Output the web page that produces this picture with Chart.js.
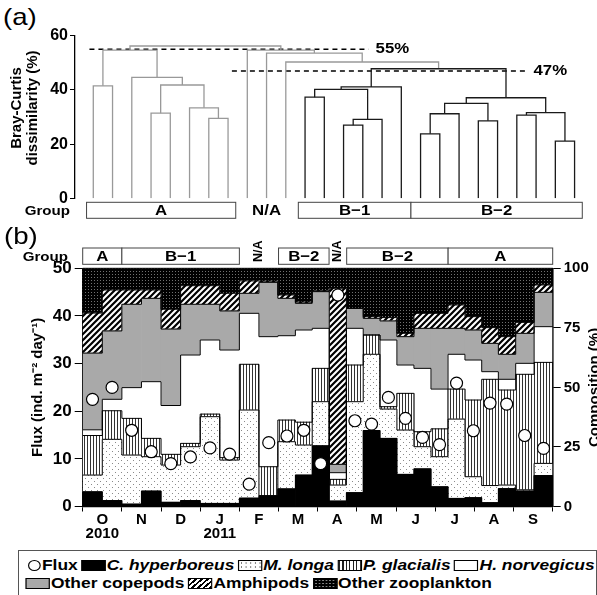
<!DOCTYPE html>
<html>
<head>
<meta charset="utf-8">
<script src="https://cdn.jsdelivr.net/npm/chart.js@4.4.1/dist/chart.umd.min.js"></script>
<style>
  body { margin: 0; background: #fff; }
  #page { position: relative; width: 597px; height: 595px; overflow: hidden; background: #fff;
          font-family: "Liberation Sans", Arial, sans-serif; color: #000; }
  canvas { position: absolute; left: 0; }
  .plab { position: absolute; font-size: 24px; line-height: 1; transform: scaleX(1.15); transform-origin: left top; }
  #legend { position: absolute; left: 18px; top: 550px; width: 579px; height: 60px; border: 1px solid #555;
            box-sizing: border-box; font-weight: bold; font-size: 15px; }
  .lrow { position: absolute; display: flex; align-items: center; white-space: nowrap; line-height: 18px;
          transform: scaleX(1.16); transform-origin: left center; }
  .sw { display: inline-block; width: 21px; height: 11px; border: 1px solid #000; box-sizing: border-box; margin: 0 1px 0 3px; }
  .fc { display: inline-block; width: 9px; height: 9px; border: 1.3px solid #000; border-radius: 50%; margin-right: 1px; }
  .ch { background: #000; }
  .ml { background: #fff radial-gradient(#777 0.7px, transparent 0.9px) 0 0 / 4px 4px; }
  .pg { background: repeating-linear-gradient(90deg, #222 0 1px, #fff 1px 3px); }
  .hn { background: #fff; }
  .oc { background: #a9a9a9; }
  .am { background: repeating-linear-gradient(135deg, #000 0 1.6px, #fff 1.6px 3.6px); }
  .oz { background: #000 radial-gradient(#888 0.6px, transparent 0.9px) 0 0 / 3px 3px; }
</style>
</head>
<body>
<div id="page">
  <div class="plab" style="left:3px;top:5px">(a)</div>
  <canvas id="dendro" width="597" height="225" style="top:0"></canvas>
  <canvas id="flux" width="597" height="320" style="top:225px"></canvas>
  <div class="plab" style="left:4px;top:224px">(b)</div>
  <div id="legend">
    <div class="lrow" style="left:9px;top:5px">
      <span class="fc"></span><span>Flux</span>
      <span class="sw ch"></span><i>C. hyperboreus</i>
      <span class="sw ml"></span><i>M. longa</i>
      <span class="sw pg"></span><i>P. glacialis</i>
      <span class="sw hn"></span><i>H. norvegicus</i>
    </div>
    <div class="lrow" style="left:3px;top:23px">
      <span class="sw oc"></span><span>Other copepods</span>
      <span class="sw am"></span><span>Amphipods</span>
      <span class="sw oz"></span><span>Other zooplankton</span>
    </div>
  </div>
</div>
<script>
// ---------- panel (a): Bray-Curtis cluster ----------
var leafGroup = ['A','A','A','A','A','A','A','A',
                 'N/A','N/A','N/A',
                 'B−1','B−1','B−1','B−1','B−1','B−1',
                 'B−2','B−2','B−2','B−2','B−2','B−2','B−2','B−2','B−2'];

// linkage: [left node, right node, dissimilarity %]; nodes 0-25 are samples, 26+ are merges
var merges = [
  [0, 1, 41.5], [3, 4, 31.4], [6, 7, 29.5], [5, 28, 33.4], [27, 29, 41.8], [2, 30, 44.6], [26, 31, 54.7],
  [11, 12, 37.3], [13, 14, 27.0], [34, 15, 29.1], [33, 35, 40.2], [36, 16, 41.1],
  [17, 18, 23.8], [38, 19, 31.2], [20, 21, 28.6], [39, 40, 35.0], [22, 23, 30.7], [24, 25, 21.1],
  [42, 43, 31.6], [41, 44, 37.1], [37, 45, 47.8],
  [10, 46, 50.3], [9, 47, 53.6], [8, 48, 54.7], [32, 49, 56.2]
];

var cutLevels = [55, 47];
var cutFrom = [-0.2, 7.2];
var cutTo = [14.3, 22.5];

// ---------- panel (b): trap samples ----------
var monthLabels = [['O', '2010'], 'N', 'D', ['J', '2011'], 'F', 'M', 'A', 'M', 'J', 'J', 'A', 'S'];
// sampling interval edges, months after 1 Oct 2010
var sampleEdges = [0, 0.5, 1, 1.5, 2, 2.5, 3, 3.5, 4, 4.5, 5, 5.43, 5.86, 6.29, 6.74, 7.16, 7.59,
                   8.02, 8.46, 8.89, 9.33, 9.76, 10.19, 10.61, 11.04, 11.53, 12];
var sampleGroup = ['A','A','B−1','B−1','B−1','B−1','B−1','B−1','N/A','N/A','B−2','B−2','B−2','N/A',
                   'B−2','B−2','B−2','B−2','B−2','B−2','A','A','A','A','A','A'];

var cHyperboreus =    [6.2, 2.5, 1.0, 6.5, 1.8, 2.5, 1.3, 1.3, 3.5, 4.5, 7.4, 13.2, 25.5, 2.3, 5.8, 31.9, 28.6, 13.5, 15.8, 8.3, 3.4, 3.7, 1.6, 7.5, 6.5, 13.0];
var mLonga =          [7.0, 25.7, 20.6, 14.4, 15.6, 22.6, 36.4, 18.2, 37.0, 0.0, 19.8, 12.6, 18.5, 6.7, 38.2, 32.0, 12.3, 18.6, 9.3, 12.6, 33.3, 8.8, 7.2, 1.5, 0.5, 5.1];
var pGlacialis =      [16.6, 12.0, 15.4, 7.7, 4.5, 1.4, 1.1, 1.0, 19.2, 12.2, 9.1, 9.6, 14.0, 2.4, 15.4, 8.1, 1.0, 15.4, 6.3, 11.7, 12.6, 32.2, 44.6, 39.9, 48.5, 42.4];
var hNorvegicus =     [2.4, 4.8, 12.9, 23.8, 20.5, 37.1, 31.1, 45.2, 21.4, 54.6, 35.4, 38.7, 16.8, 2.8, 15.4, 0.0, 28.0, 11.9, 26.6, 16.7, 14.6, 16.8, 3.2, 4.5, 4.6, 15.0];
var otherCopepods =   [32.2, 28.7, 35.0, 35.0, 32.1, 21.3, 15.0, 16.4, 8.4, 22.8, 15.7, 11.2, 15.4, 3.5, 8.4, 7.0, 8.0, 11.9, 16.8, 25.5, 10.9, 12.6, 11.9, 10.5, 12.6, 14.4];
var amphipods =       [16.8, 17.2, 6.0, 3.5, 8.3, 7.8, 7.8, 7.4, 5.2, 0.5, 1.4, 0.5, 0.3, 73.9, 0.0, 0.7, 1.4, 1.4, 6.3, 6.3, 9.8, 5.6, 6.6, 7.4, 4.6, 3.1];
var otherZooplankton = [18.8, 9.1, 9.1, 9.1, 17.2, 7.3, 7.3, 10.5, 5.3, 5.4, 11.2, 14.2, 9.5, 8.4, 16.8, 20.3, 20.7, 27.3, 18.9, 18.9, 15.4, 20.3, 24.9, 28.7, 22.7, 7.0];
var flux = [22.5, 25.0, 16.0, 11.5, 9.0, 10.4, 12.3, 11.0, 4.7, 13.4, 14.8, 16.0, 9.0, 44.4, 18.0, 17.3, 22.9, 18.5, 14.5, 13.0, 25.9, 15.9, 21.7, 21.5, 14.9, 12.2];

var FONT = "'Liberation Sans', Arial, sans-serif";
Chart.defaults.font.family = FONT;
Chart.defaults.color = '#000';

function groupRuns(groups) {
  var out = [];
  groups.forEach(function (g, i) {
    var last = out[out.length - 1];
    if (last && last.name === g) last.last = i; else out.push({ name: g, first: i, last: i });
  });
  return out;
}

function wideText(ctx, txt, x, y, sx) {
  ctx.save();
  ctx.translate(x, y);
  ctx.scale(sx, 1);
  ctx.fillText(txt, 0, 0);
  ctx.restore();
}

function upText(ctx, txt, x, y) {
  ctx.save();
  ctx.translate(x, y);
  ctx.rotate(-Math.PI / 2);
  ctx.fillText(txt, 0, 0);
  ctx.restore();
}

//init dendrogram
var nodeX = leafGroup.map(function (g, i) { return i; });
var nodeH = leafGroup.map(function () { return 0; });
var nodeLeaves = leafGroup.map(function (g, i) { return [i]; });
var linkSets = merges.map(function (m) {
  var a = m[0], b = m[1], h = m[2];
  nodeX.push((nodeX[a] + nodeX[b]) / 2);
  nodeH.push(h);
  var lv = nodeLeaves[a].concat(nodeLeaves[b]);
  nodeLeaves.push(lv);
  var dark = lv.every(function (i) { return leafGroup[i].charAt(0) === 'B'; });
  return {
    data: [{ x: nodeX[a], y: nodeH[a] }, { x: nodeX[a], y: h }, { x: nodeX[b], y: h }, { x: nodeX[b], y: nodeH[b] }],
    showLine: true, pointRadius: 0, borderWidth: 1.3, fill: false,
    borderColor: dark ? '#1a1a1a' : '#999'
  };
});
cutLevels.forEach(function (lv, k) {
  linkSets.push({
    data: [{ x: cutFrom[k], y: lv }, { x: cutTo[k], y: lv }],
    showLine: true, pointRadius: 0, borderWidth: 1.5, borderDash: [5, 4], borderColor: '#000', fill: false
  });
});

var dendroDecor = {
  id: 'dendroDecor',
  afterDraw: function (chart) {
    var ctx = chart.ctx, xs = chart.scales.x, ys = chart.scales.y, area = chart.chartArea;
    ctx.save();
    ctx.fillStyle = '#000';
    ctx.font = 'bold 15px ' + FONT;
    ctx.textBaseline = 'middle';
    ctx.textAlign = 'left';
    cutLevels.forEach(function (lv, k) {
      wideText(ctx, lv + '%', xs.getPixelForValue(cutTo[k]) + 7, ys.getPixelForValue(lv), 1.12);
    });
    // y title
    ctx.textAlign = 'center';
    upText(ctx, 'Bray-Curtis', 17, 108);
    upText(ctx, 'dissimilarity (%)', 33, 108);
    // group row
    var top = area.bottom + 4, h = 16;
    ctx.textAlign = 'right';
    ctx.font = 'bold 13.5px ' + FONT;
    wideText(ctx, 'Group', 70, top + h / 2 + 1, 1.12);
    var runs = groupRuns(leafGroup);
    ctx.font = 'bold 15px ' + FONT;
    ctx.textAlign = 'center';
    runs.forEach(function (r, k) {
      var boxed = r.name !== 'N/A';
      var prev = runs[k - 1], next = runs[k + 1];
      var l = xs.getPixelForValue(r.first - (prev && prev.name !== 'N/A' ? 0.5 : 0.35));
      var rr = xs.getPixelForValue(r.last + (next && next.name !== 'N/A' ? 0.5 : 0.4));
      if (boxed) {
        ctx.fillStyle = '#fff';
        ctx.strokeStyle = '#444';
        ctx.lineWidth = 1;
        ctx.fillRect(l, top, rr - l, h);
        ctx.strokeRect(l, top, rr - l, h);
      }
      ctx.fillStyle = '#000';
      wideText(ctx, r.name, (l + rr) / 2, top + h / 2 + 1, 1.12);
    });
    ctx.restore();
  }
};

var dendroChart = new Chart(document.getElementById('dendro'), {
  type: 'scatter',
  data: { datasets: linkSets },
  options: {
    responsive: false, animation: false, events: [],
    layout: { padding: { top: 35.7, bottom: 26.7, left: 0, right: 12.8 } },
    plugins: { legend: { display: false }, tooltip: { enabled: false } },
    scales: {
      x: { type: 'linear', display: false, min: -0.95, max: 25.5 },
      y: {
        min: 0, max: 60,
        ticks: { stepSize: 20, font: { size: 16, weight: 'bold' }, padding: 2, color: '#000' },
        grid: { drawOnChartArea: false, tickLength: 5, color: '#000' },
        border: { color: '#000', width: 1.3 },
        afterFit: function (s) { s.width = 75; }
      }
    }
  },
  plugins: [dendroDecor]
});

//init composition bars
function makePattern(w, h, paint) {
  var c = document.createElement('canvas');
  c.width = w; c.height = h;
  var g = c.getContext('2d');
  paint(g);
  return g.createPattern(c, 'repeat');
}
var fills = {
  ch: '#000',
  ml: makePattern(6, 6, function (g) {
    g.fillStyle = '#fff'; g.fillRect(0, 0, 6, 6);
    g.fillStyle = '#8a8a8a'; g.fillRect(1, 1, 1, 1); g.fillRect(4, 4, 1, 1);
  }),
  pg: makePattern(3, 1, function (g) {
    g.fillStyle = '#fff'; g.fillRect(0, 0, 3, 1);
    g.fillStyle = '#333'; g.fillRect(0, 0, 1, 1);
  }),
  hn: '#fff',
  oc: '#a9a9a9',
  am: makePattern(6, 6, function (g) {
    g.fillStyle = '#fff'; g.fillRect(0, 0, 6, 6);
    g.strokeStyle = '#000'; g.lineWidth = 2.2;
    g.beginPath();
    g.moveTo(-1, 7); g.lineTo(7, -1);
    g.moveTo(-1, 1); g.lineTo(1, -1);
    g.moveTo(5, 7); g.lineTo(7, 5);
    g.stroke();
  }),
  oz: makePattern(3, 3, function (g) {
    g.fillStyle = '#000'; g.fillRect(0, 0, 3, 3);
    g.fillStyle = '#707070'; g.fillRect(1, 1, 1, 1);
  })
};

var centers = sampleEdges.slice(0, -1).map(function (s, i) { return (s + sampleEdges[i + 1]) / 2; });

var layers = [
  ['C. hyperboreus', cHyperboreus, fills.ch],
  ['M. longa', mLonga, fills.ml],
  ['P. glacialis', pGlacialis, fills.pg],
  ['H. norvegicus', hNorvegicus, fills.hn],
  ['Other copepods', otherCopepods, fills.oc],
  ['Amphipods', amphipods, fills.am],
  ['Other zooplankton', otherZooplankton, fills.oz]
];
var fluxSets = layers.map(function (l) {
  return {
    type: 'bar', label: l[0],
    data: l[1].map(function (v, i) { return { x: centers[i], y: v }; }),
    backgroundColor: l[2], borderWidth: 0,
    barThickness: 'flex', categoryPercentage: 1, barPercentage: 1,
    xAxisID: 'x', yAxisID: 'y', order: 2
  };
});
fluxSets.push({
  type: 'scatter', label: 'Flux',
  data: flux.map(function (v, i) { return { x: centers[i], y: v }; }),
  xAxisID: 'x', yAxisID: 'yFlux', order: 1,
  pointRadius: 6, pointBackgroundColor: '#fff', pointBorderColor: '#000', pointBorderWidth: 1.2
});

var fluxDecor = {
  id: 'fluxDecor',
  beforeDatasetDraw: function (chart, args) {
    if (chart.data.datasets[args.index].type !== 'scatter') return;
    var ctx = chart.ctx;
    ctx.save();
    ctx.strokeStyle = '#000';
    ctx.lineWidth = 1;
    var lastRight = 0, lastTop = 0;
    chart.data.datasets.forEach(function (ds, di) {
      if (ds.type !== 'bar') return;
      var bars = chart.getDatasetMeta(di).data;
      ctx.beginPath();
      bars.forEach(function (b, k) {
        var p = b.getProps(['x', 'y', 'width'], true);
        var l = p.x - p.width / 2, r = p.x + p.width / 2;
        if (k === 0) ctx.moveTo(l, p.y); else ctx.lineTo(l, p.y);
        ctx.lineTo(r, p.y);
        lastRight = r; lastTop = p.y;
      });
      ctx.stroke();
    });
    ctx.beginPath();
    ctx.moveTo(lastRight, chart.chartArea.bottom);
    ctx.lineTo(lastRight, lastTop);
    ctx.stroke();
    ctx.restore();
  },
  afterDraw: function (chart) {
    var ctx = chart.ctx, xs = chart.scales.x, area = chart.chartArea;
    ctx.save();
    ctx.fillStyle = '#000';
    var top = area.top - 20.3, h = 16.3;
    ctx.textBaseline = 'middle';
    ctx.textAlign = 'right';
    ctx.font = 'bold 13.5px ' + FONT;
    wideText(ctx, 'Group', 68, top + h / 2 + 1, 1.12);
    ctx.textAlign = 'center';
    groupRuns(sampleGroup).forEach(function (r) {
      var l = xs.getPixelForValue(sampleEdges[r.first]);
      var rr = xs.getPixelForValue(sampleEdges[r.last + 1]);
      if (r.name === 'N/A') {
        ctx.font = 'bold 12.5px ' + FONT;
        ctx.fillStyle = '#000';
        upText(ctx, r.name, (l + rr) / 2, top + h / 2 - 5);
        return;
      }
      ctx.fillStyle = '#fff';
      ctx.strokeStyle = '#444';
      ctx.lineWidth = 1;
      ctx.fillRect(l, top, rr - l, h);
      ctx.strokeRect(l, top, rr - l, h);
      ctx.fillStyle = '#000';
      ctx.font = 'bold 15px ' + FONT;
      wideText(ctx, r.name, (l + rr) / 2, top + h / 2 + 1, 1.12);
    });
    // right axis title
    ctx.font = 'bold 15px ' + FONT;
    ctx.textBaseline = 'top';
    upText(ctx, 'Composition (%)', 587, (area.top + area.bottom) / 2);
    ctx.restore();
  }
};

var fluxChart = new Chart(document.getElementById('flux'), {
  type: 'bar',
  data: { datasets: fluxSets },
  options: {
    responsive: false, animation: false, events: [],
    layout: { padding: { top: 43.3, bottom: 0, left: 0, right: 0 } },
    plugins: { legend: { display: false }, tooltip: { enabled: false } },
    scales: {
      x: { type: 'linear', display: false, min: 0, max: 12, stacked: true, offset: false },
      xMonth: {
        type: 'category', labels: monthLabels, position: 'bottom', offset: true,
        grid: { offset: true, drawOnChartArea: false, tickLength: 5, color: '#000' },
        border: { color: '#000', width: 1.3 },
        ticks: { font: { size: 15, weight: 'bold', lineHeight: 0.96 }, padding: 1, maxRotation: 0, autoSkip: false, color: '#000' },
        afterFit: function (s) { s.height = 38.5; }
      },
      yFlux: {
        position: 'left', min: 0, max: 50,
        ticks: { stepSize: 10, font: { size: 17, weight: 'bold' }, padding: 3, color: '#000' },
        grid: { drawOnChartArea: false, tickLength: 8, color: '#000' },
        border: { color: '#000', width: 1.3 },
        title: { display: true, text: 'Flux (ind. m⁻² day⁻¹)', font: { size: 15, weight: 'bold' }, padding: { top: 29 } },
        afterFit: function (s) { s.width = 82.7; }
      },
      y: {
        position: 'right', stacked: true, min: 0, max: 100,
        ticks: { stepSize: 25, font: { size: 15, weight: 'bold' }, padding: 3, color: '#000' },
        grid: { drawOnChartArea: false, tickLength: 8, color: '#000' },
        border: { color: '#000', width: 1.3 },
        afterFit: function (s) { s.width = 44.3; }
      }
    }
  },
  plugins: [fluxDecor]
});
</script>
</body>
</html>
